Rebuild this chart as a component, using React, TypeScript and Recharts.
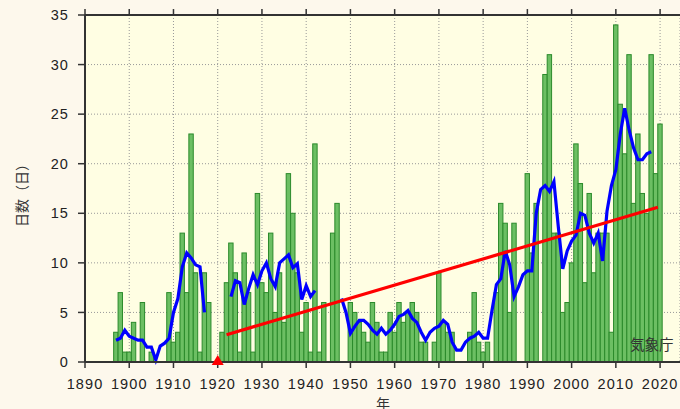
import React from 'react';
import { ComposedChart, Bar, Line, Scatter, XAxis, YAxis, CartesianGrid, ReferenceLine } from 'recharts';

// yearly count of days, 1895-2020 (null = no record)
const firstYear = 1895;
const days: (number | null)[] = [
  0, 0, 3, 7, 1,
  1, 4, 0, 6, 0, 1, 0, 0, 0, 7,
  2, 3, 13, 7, 23, 9, 1, 9, 6, 0,
  null, 3, 8, 12, 9, 1, 11, 7, 1, 17,
  8, 7, 13, 5, 9, 4, 19, 15, 9, 3,
  6, 1, 22, 1, 6, null, 13, 16, 0, 0,
  6, 5, 4, 3, 2, 6, 4, 1, 1, 5,
  3, 6, 4, 5, 6, 5, 2, 2, 0, 2,
  9, 4, 3, 3, 0, 0, 0, 3, 7, 2,
  1, 2, 0, 7, 16, 14, 5, 14, 0, 0,
  19, 11, 16, 0, 29, 31, 13, 13, 5, 6,
  10, 22, 18, 8, 17, 9, 13, 13, 13, 3,
  34, 26, 21, 31, 16, 23, 17, 15, 31, 19,
  24,
];

// 5-year running mean (blue)
const runningMean: (number | null)[] = [
  null, null, 2.2, 2.4, 3.2,
  2.6, 2.4, 2.2, 2.2, 1.5, 1.5, 0.2, 1.6, 1.9, 2.4,
  5.0, 6.4, 9.6, 11.0, 10.5, 9.8, 9.6, 5.0, null, null,
  null, null, null, 6.6, 8.2, 8.0, 5.8, 7.4, 8.8, 7.8,
  9.2, 10.0, 8.4, 7.6, 10.0, 10.4, 10.8, 9.5, 9.9, 6.3,
  7.7, 6.6, 7.2, null, null, null, null, null, 6.4, 5.0,
  2.9, 3.6, 4.2, 4.2, 3.8, 3.2, 2.8, 3.4, 2.8, 3.2,
  3.8, 4.6, 4.8, 5.2, 4.4, 4.0, 3.0, 2.2, 3.0, 3.4,
  3.6, 4.2, 3.8, 2.0, 1.2, 1.2, 2.0, 2.4, 2.6, 3.0,
  2.4, 2.4, 5.2, 7.8, 8.4, 11.2, 9.8, 6.6, 7.6, 8.8,
  9.2, 9.2, 15.0, 17.4, 17.8, 17.2, 18.2, 13.6, 9.4, 11.2,
  12.2, 12.8, 15.0, 14.8, 13.0, 12.0, 13.0, 10.2, 15.2, 17.8,
  19.4, 23.0, 25.6, 23.4, 21.6, 20.4, 20.4, 21.0, 21.2, null,
  null,
];

// long-term trend (red)
const trendYears = [1922, 2019.5];
const trendValues = [2.75, 15.6];

// red marker on the axis
const markYear = 1920;

const xTicks = [1890, 1900, 1910, 1920, 1930, 1940, 1950, 1960, 1970, 1980, 1990, 2000, 2010, 2020];
const yTicks = [0, 5, 10, 15, 20, 25, 30, 35];

const xDomain: [number, number] = [1890, 2024.5];

const data = days.map((d, i) => ({ year: firstYear + i, days: d, mean: runningMean[i] }));
const trendData = trendYears.map((y, i) => ({ year: y, trend: trendValues[i] }));
const markData = [{ year: markYear, mark: 0 }];

const tickFont = { fontSize: 14.5, fill: '#222', fontFamily: '"Liberation Sans", Arial, sans-serif', letterSpacing: 1.1 };
const cjkFont = '"Noto Sans CJK JP", sans-serif';

// draw each bar a bit wider than the slot so neighbours touch like the original
const GreenBar = (props: any) => {
  const { x, y, width, height } = props;
  if (!height || height <= 0) return <g />;
  const cx = x + width / 2;
  return <rect x={cx - 2.2} y={y} width={4.4} height={height} fill="#6cbf63" stroke="#2b8a2b" strokeWidth={1} />;
};

const Triangle = (props: any) => {
  const { cx, cy } = props;
  return <polygon points={`${cx - 6},${cy + 3} ${cx + 6},${cy + 3} ${cx},${cy - 7}`} fill="#ff0000" />;
};

const App: React.FC = () => {
  return (
    <div style={{ position: 'absolute', left: 0, top: 0, width: 680, height: 409, background: '#fdf8ec', overflow: 'hidden' }}>
      <ComposedChart width={680} height={409} data={data} margin={{ top: 15, right: 0, bottom: 0, left: 0 }}>
        <CartesianGrid fill="#fffee3" stroke="#999" strokeDasharray="1 2" />
        <XAxis
          dataKey="year"
          type="number"
          domain={xDomain}
          ticks={xTicks}
          interval={0}
          allowDataOverflow
          height={47}
          tickSize={6}
          tickMargin={11}
          tick={tickFont}
          axisLine={{ stroke: '#333', strokeWidth: 2 }}
          tickLine={{ stroke: '#333', strokeWidth: 1.5 }}
        />
        <YAxis
          type="number"
          domain={[0, 35]}
          ticks={yTicks}
          interval={0}
          width={85}
          tickSize={7}
          tickMargin={9}
          tick={tickFont}
          axisLine={{ stroke: '#333', strokeWidth: 2 }}
          tickLine={{ stroke: '#333', strokeWidth: 1.5 }}
        />
        <ReferenceLine y={35} stroke="#333" strokeWidth={2} />
        {xTicks.map((t) => (
          <ReferenceLine
            key={t}
            segment={[{ x: t, y: 35 }, { x: t, y: 35.6 }]}
            stroke="#333"
            strokeWidth={1.5}
            ifOverflow="visible"
          />
        ))}
        <Bar dataKey="days" barSize={4} shape={GreenBar} isAnimationActive={false} />
        <Line dataKey="mean" stroke="#0000ff" strokeWidth={3.2} dot={false} connectNulls={false} isAnimationActive={false} />
        <Line data={trendData} dataKey="trend" stroke="#ff0000" strokeWidth={3.2} dot={false} isAnimationActive={false} />
        <Scatter data={markData} dataKey="mark" shape={Triangle} isAnimationActive={false} />
      </ComposedChart>
      <div
        style={{
          position: 'absolute', left: 21, top: 192, transform: 'translate(-50%, -50%) rotate(-90deg)',
          fontFamily: cjkFont, fontSize: 14, color: '#333', whiteSpace: 'nowrap', lineHeight: 1,
        }}
      >
        日数（日）
      </div>
      <div style={{ position: 'absolute', left: 376, top: 396, fontFamily: cjkFont, fontSize: 14, color: '#333', lineHeight: 1 }}>
        年
      </div>
      <div style={{ position: 'absolute', left: 630, top: 337, fontFamily: cjkFont, fontSize: 14.5, color: '#333', lineHeight: 1 }}>
        気象庁
      </div>
    </div>
  );
};

export default App;
